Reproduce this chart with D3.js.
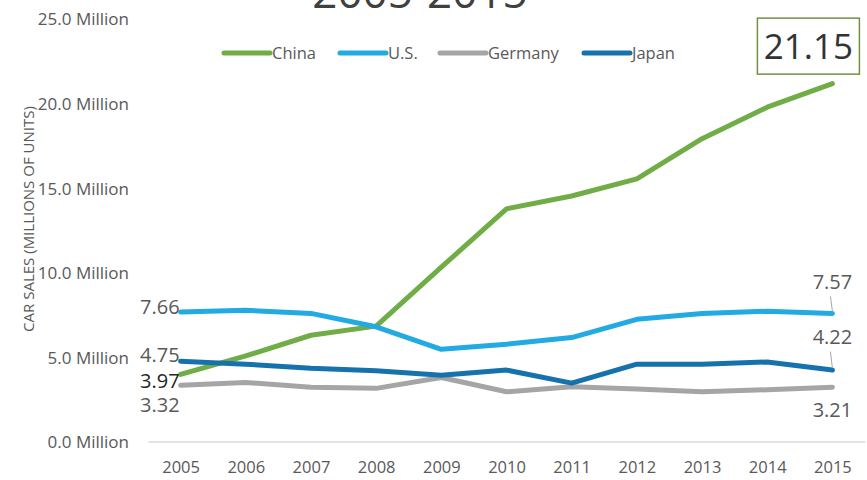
<!DOCTYPE html>
<html>
<head>
<meta charset="utf-8">
<script src="https://cdn.jsdelivr.net/npm/d3@7"></script>
<style>
  html, body { margin: 0; padding: 0; background: #ffffff; }
  svg { display: block; font-family: "Open Sans", sans-serif; }
</style>
</head>
<body>
<svg id="chart" width="867" height="480"></svg>
<script>
// Annual car sales, millions of units
const years   = [2005, 2006, 2007, 2008, 2009, 2010, 2011, 2012, 2013, 2014, 2015];
const china   = [3.97, 5.06, 6.28, 6.82, 10.30, 13.75, 14.51, 15.52, 17.90, 19.76, 21.15];
const us      = [7.66, 7.75, 7.57, 6.78, 5.45, 5.75, 6.14, 7.22, 7.57, 7.70, 7.57];
const germany = [3.32, 3.49, 3.20, 3.14, 3.78, 2.94, 3.24, 3.10, 2.94, 3.06, 3.21];
const japan   = [4.75, 4.57, 4.33, 4.18, 3.92, 4.22, 3.45, 4.57, 4.57, 4.70, 4.22];
const seriesNames = ["China", "U.S.", "Germany", "Japan"];
const yTicks  = [0, 5, 10, 15, 20, 25];

const series = [
  { name: seriesNames[0], values: china,   color: "#70ad47" },
  { name: seriesNames[1], values: us,      color: "#22aae2" },
  { name: seriesNames[2], values: germany, color: "#a5a5a5" },
  { name: seriesNames[3], values: japan,   color: "#1672ad" }
];

const svg = d3.select("#chart");

const x = d3.scalePoint().domain(years).range([148, 865]).padding(0.5);
const y = d3.scaleLinear().domain([0, 25]).range([441.5, 18.5]);

// Title (top line sits above the frame)
svg.append("text")
  .attr("x", 420).attr("y", 8)
  .attr("text-anchor", "middle")
  .attr("font-size", 44)
  .attr("fill", "#404040")
  .text("2005-2015");

// Y axis labels
const yAxis = d3.axisLeft(y).tickValues(yTicks)
  .tickFormat(d => d3.format(".1f")(d) + " Million")
  .tickSize(0).tickPadding(0);
const yg = svg.append("g").attr("transform", "translate(129,0)").call(yAxis);
yg.select(".domain").remove();
yg.selectAll("text")
  .attr("font-family", "Open Sans, sans-serif")
  .attr("font-size", 17)
  .attr("fill", "#595959")
  .attr("dy", "0.38em");

// Baseline and year labels
const xAxis = d3.axisBottom(x).tickSize(0).tickPadding(0);
const xg = svg.append("g").attr("transform", `translate(0,${y(0)})`).call(xAxis);
xg.select(".domain").attr("stroke", "#d9d9d9").attr("stroke-width", 1.5);
xg.selectAll("text")
  .attr("font-family", "Open Sans, sans-serif")
  .attr("font-size", 16.5)
  .attr("fill", "#595959")
  .attr("y", 20);

// Vertical axis title
svg.append("text")
  .attr("transform", "translate(34,219) rotate(-90)")
  .attr("text-anchor", "middle")
  .attr("font-size", 15)
  .attr("fill", "#595959")
  .text("CAR SALES (MILLIONS OF UNITS)");

// Lines
const line = d3.line()
  .x((d, i) => x(years[i]))
  .y(d => y(d));

svg.append("g").selectAll("path")
  .data(series)
  .join("path")
  .attr("d", d => line(d.values))
  .attr("fill", "none")
  .attr("stroke", d => d.color)
  .attr("stroke-width", 5)
  .attr("stroke-linejoin", "round")
  .attr("stroke-linecap", "round");

// Legend
const legendItems = [
  { s: series[0], lx: 224 },
  { s: series[1], lx: 340 },
  { s: series[2], lx: 440 },
  { s: series[3], lx: 584 }
];
const lg = svg.append("g");
legendItems.forEach(it => {
  lg.append("line")
    .attr("x1", it.lx).attr("x2", it.lx + 46)
    .attr("y1", 53).attr("y2", 53)
    .attr("stroke", it.s.color).attr("stroke-width", 5)
    .attr("stroke-linecap", "round");
  lg.append("text")
    .attr("x", it.lx + 48).attr("y", 53).attr("dy", "0.36em")
    .attr("font-size", 16.5).attr("fill", "#595959")
    .text(it.s.name);
});

// Value labels at the first and last year
const fmt = d3.format(".2f");
const first = years[0], last = years[years.length - 1];
const n = years.length - 1;
const startLabels = [
  { v: us[0],      dy: -5,   color: "#595959" },
  { v: japan[0],   dy: -6.5, color: "#595959" },
  { v: china[0],   dy: 6,    color: "#262626" },
  { v: germany[0], dy: 19.5, color: "#595959" }
];
startLabels.forEach(l => {
  svg.append("text")
    .attr("x", x(first) - 1).attr("y", y(l.v) + l.dy).attr("dy", "0.36em")
    .attr("text-anchor", "end")
    .attr("font-size", 20)
    .attr("fill", l.color)
    .text(fmt(l.v));
});

const endLabels = [
  { v: us[n],      dy: -32,  leader: true },
  { v: japan[n],   dy: -33.5, leader: true },
  { v: germany[n], dy: 23,   leader: false }
];
endLabels.forEach(l => {
  const px = x(last), py = y(l.v);
  if (l.leader) {
    svg.append("line")
      .attr("x1", px - 2).attr("y1", py + l.dy + 15)
      .attr("x2", px).attr("y2", py - 2)
      .attr("stroke", "#a6a6a6").attr("stroke-width", 1);
  }
  svg.append("text")
    .attr("x", px).attr("y", py + l.dy).attr("dy", "0.36em")
    .attr("text-anchor", "middle")
    .attr("font-size", 20)
    .attr("fill", "#595959")
    .text(fmt(l.v));
});

// Callout box for the final China value
const cx = x(last) - 24, cy = y(china[n]);
svg.append("rect")
  .attr("x", cx - 51).attr("y", cy - 65.5)
  .attr("width", 102).attr("height", 56)
  .attr("fill", "#ffffff")
  .attr("stroke", "#70923f").attr("stroke-width", 1.5);
svg.append("text")
  .attr("x", cx).attr("y", cy - 37.5).attr("dy", "0.36em")
  .attr("text-anchor", "middle")
  .attr("font-size", 35)
  .attr("fill", "#333333")
  .text(fmt(china[n]));
</script>
</body>
</html>
